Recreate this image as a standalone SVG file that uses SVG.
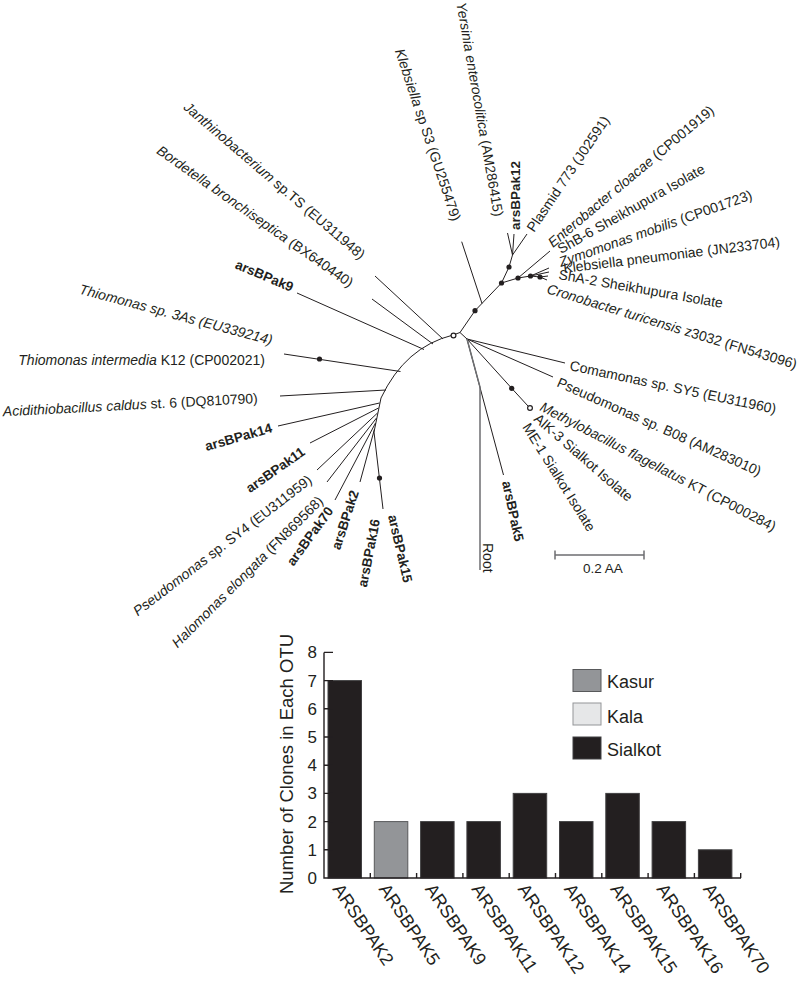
<svg xmlns="http://www.w3.org/2000/svg" width="798" height="982" viewBox="0 0 798 982">
<style>
text{font-family:"Liberation Sans",Arial,sans-serif;fill:#231f20}
.t{font-size:14px}
.b{font-weight:bold;font-size:13.5px}
.i{font-style:italic}
.ln{stroke:#231f20;stroke-width:1;fill:none}
.root{stroke:#6d6e71;stroke-width:1.5;fill:none}
.dot{fill:#231f20}
.oc{fill:#fff;stroke:#231f20;stroke-width:1.2}
.ax{stroke:#231f20;stroke-width:1.4;fill:none}
.bar{fill:#231f20;stroke:#414042;stroke-width:1}
.ks{fill:#939598;stroke:#58595b;stroke-width:1}
.kl{fill:#e6e7e8;stroke:#939598;stroke-width:1}
.xl{font-size:18px}
.yl{font-size:17px}
.lg{font-size:18px}
</style>
<rect width="798" height="982" fill="#fff"/>
<g id="connectors">
<path class="ln" d="M453,335 Q405,347 381,398 L374,432"/>
<path class="ln" d="M374,432 L383,509"/>
<path class="ln" d="M297,293 L424,349.5"/>
<path class="ln" d="M372,299 L433,344"/>
<path class="ln" d="M375,276 L443,339"/>
<path class="ln" d="M284,354 L400.5,371.5"/>
<path class="ln" d="M280,396 L386,390"/>
<path class="ln" d="M278,426 L379.5,403"/>
<path class="ln" d="M310,443 L378.5,408"/>
<path class="ln" d="M317,470 L377.5,413"/>
<path class="ln" d="M327,482 L376.5,418"/>
<path class="ln" d="M335,500 L375.5,423"/>
<path class="ln" d="M360,482 L374.5,429"/>
<path class="ln" d="M453,335 L460,332.5 L475,310.7 L501.5,283 L509,267 L512.5,255"/>
<path class="ln" d="M512.5,255 L507.5,233 M512.5,255 L514,234 M512.5,255 L527,234"/>
<path class="ln" d="M482,303.5 L461.7,241.7"/>
<path class="ln" d="M501.5,283 L518,278 L530.5,276 L540,277"/>
<path class="ln" d="M518,278 L550,251"/>
<path class="ln" d="M530.5,276 L549,268 M530.5,276 L549,272 M540,277 L548,276 M540,277 L547,280"/>
<path class="ln" d="M460,332.5 L467,339"/>
<path class="ln" d="M467,339 L565,363"/>
<path class="ln" d="M467,339 L553,377"/>
<path class="ln" d="M467,339 L511.7,388.3 L528,406"/>
<path class="ln" d="M467,339 L503.5,475"/>
<path class="root" d="M467,339 L480,387 L480,570"/>
<path class="root" d="M555,555 H644 M555,550.5 V559.5 M644,550.5 V559.5"/>
</g>
<g id="nodes">
<circle class="dot" cx="475" cy="310.7" r="2.6"/>
<circle class="dot" cx="501.5" cy="283" r="2.6"/>
<circle class="dot" cx="509" cy="267" r="2.6"/>
<circle class="dot" cx="518" cy="278" r="2.6"/>
<circle class="dot" cx="530.5" cy="276" r="2.6"/>
<circle class="dot" cx="540" cy="277" r="2.6"/>
<circle class="dot" cx="319.5" cy="359" r="2.6"/>
<circle class="dot" cx="379.5" cy="478" r="2.6"/>
<circle class="dot" cx="511.7" cy="388.3" r="2.6"/>
<circle class="oc" cx="453.5" cy="335.5" r="2.4"/>
<circle class="oc" cx="530" cy="408" r="2.4"/>
</g>
<g id="labels-left" text-anchor="end">
<text id="n-yersinia" class="t" transform="translate(494,217) rotate(80)"><tspan class="i">Yersinia enterocolitica</tspan> (AM286415)</text>
<text id="n-kleb-s3" class="t" transform="translate(452,222) rotate(71.5)"><tspan class="i">Klebsiella</tspan> sp S3 (GU255479)</text>
<text id="n-janth" class="t" transform="translate(360,260) rotate(40.5)"><tspan class="i">Janthinobacterium</tspan> sp.TS (EU311948)</text>
<text id="n-bord" class="t" transform="translate(349,288) rotate(35)"><tspan class="i">Bordetella bronchiseptica</tspan> (BX640440)</text>
<text id="n-pak9" class="b" transform="translate(291,292) rotate(23)">arsBPak9</text>
<text id="n-thio3" class="t i" transform="translate(271,345) rotate(15)">Thiomonas sp. 3As (EU339214)</text>
<text id="n-thioK" class="t" transform="translate(265,365)"><tspan class="i">Thiomonas intermedia</tspan> K12 (CP002021)</text>
<text id="n-acid" class="t" transform="translate(258,403) rotate(-3)"><tspan class="i">Acidithiobacillus caldus</tspan> st. 6 (DQ810790)</text>
<text id="n-pak14" class="b" transform="translate(273,432) rotate(-16)">arsBPak14</text>
<text id="n-pak11" class="b" transform="translate(306,454) rotate(-35)">arsBPak11</text>
<text id="n-sy4" class="t" transform="translate(313,482) rotate(-37.5)"><tspan class="i">Pseudomonas</tspan> sp. SY4 (EU311959)</text>
<text id="n-halo" class="t" transform="translate(324,502) rotate(-45)"><tspan class="i">Halomonas elongata</tspan> (FN869568)</text>
<text id="n-pak70" class="b" transform="translate(334,511) rotate(-54)">arsBPak70</text>
<text id="n-pak2" class="b" transform="translate(359,492) rotate(-72)">arsBPak2</text>
<text id="n-pak16" class="b" transform="translate(380,520) rotate(-79)">arsBPak16</text>
</g>
<g id="labels-right">
<text id="n-pak12" class="b" transform="translate(520,230) rotate(-90)">arsBPak12</text>
<text id="n-plasmid" class="t" transform="translate(534,233) rotate(-56)">Plasmid 773 (J02591)</text>
<text id="n-entero" class="t" transform="translate(553,248) rotate(-40)"><tspan class="i">Enterobacter cloacae</tspan> (CP001919)</text>
<text id="n-shb6" class="t" transform="translate(561,254) rotate(-29.5)">ShB-6 Sheikhupura Isolate</text>
<text id="n-zymo" class="t" transform="translate(561,267) rotate(-19.5)"><tspan class="i">Zymomonas mobilis</tspan> (CP001723)</text>
<text id="n-klebp" class="t" transform="translate(564,273) rotate(-7)">Klebsiella pneumoniae (JN233704)</text>
<text id="n-sha2" class="t" transform="translate(558,279) rotate(10)">ShA-2 Sheikhupura Isolate</text>
<text id="n-crono" class="t" transform="translate(546,293) rotate(17)"><tspan class="i">Cronobacter turicensis</tspan> z3032 (FN543096)</text>
<text id="n-coma" class="t" transform="translate(569,370) rotate(12)">Comamonas sp. SY5 (EU311960)</text>
<text id="n-b08" class="t" transform="translate(556,386) rotate(24)">Pseudomonas sp. B08 (AM283010)</text>
<text id="n-methyl" class="t" transform="translate(539,410) rotate(27.5)"><tspan class="i">Methylobacillus flagellatus</tspan> KT (CP000284)</text>
<text id="n-alk3" class="t" transform="translate(533,420) rotate(41)">AlK-3 Sialkot Isolate</text>
<text id="n-me1" class="t" transform="translate(522,427) rotate(58)">ME-1 Sialkot Isolate</text>
<text id="n-pak5" class="b" transform="translate(502,482) rotate(78)">arsBPak5</text>
<text id="n-pak15" class="b" transform="translate(388,516) rotate(77)">arsBPak15</text>
<text id="n-root" class="t" transform="translate(483,543) rotate(90)">Root</text>
<text id="scale" class="t" x="603" y="573" text-anchor="middle" style="font-size:13.5px">0.2 AA</text>
</g>
<g id="chart">
<rect class="bar" x="328" y="680.6" width="33.5" height="197.4"/>
<rect class="ks" x="374.3" y="821.6" width="33.5" height="56.4"/>
<rect class="bar" x="420.6" y="821.6" width="33.5" height="56.4"/>
<rect class="bar" x="466.9" y="821.6" width="33.5" height="56.4"/>
<rect class="bar" x="513.2" y="793.4" width="33.5" height="84.6"/>
<rect class="bar" x="559.5" y="821.6" width="33.5" height="56.4"/>
<rect class="bar" x="605.8" y="793.4" width="33.5" height="84.6"/>
<rect class="bar" x="652.1" y="821.6" width="33.5" height="56.4"/>
<rect class="bar" x="698.4" y="849.8" width="33.5" height="28.2"/>
<path class="ax" d="M324,652.4 V878 H741"/>
<path class="ax" d="M324,652.4 h9 M324,680.6 h9 M324,708.8 h9 M324,737 h9 M324,765.2 h9 M324,793.4 h9 M324,821.6 h9 M324,849.8 h9"/>
<path class="ax" d="M370.3,878 v-5 M416.6,878 v-5 M462.9,878 v-5 M509.2,878 v-5 M555.5,878 v-5 M601.8,878 v-5 M648.1,878 v-5 M694.4,878 v-5 M740.7,878 v-5"/>
<g class="yl" text-anchor="end">
<text x="317" y="658.4">8</text>
<text x="317" y="686.6">7</text>
<text x="317" y="714.8">6</text>
<text x="317" y="743">5</text>
<text x="317" y="771.2">4</text>
<text x="317" y="799.4">3</text>
<text x="317" y="827.6">2</text>
<text x="317" y="855.8">1</text>
<text x="317" y="884">0</text>
</g>
<text style="font-size:18.5px" text-anchor="middle" transform="translate(292.5,764) rotate(-90)">Number of Clones in Each OTU</text>
<g class="xl">
<text transform="translate(332,889) rotate(56)">ARSBPAK2</text>
<text transform="translate(378.3,889) rotate(56)">ARSBPAK5</text>
<text transform="translate(424.6,889) rotate(56)">ARSBPAK9</text>
<text transform="translate(470.9,889) rotate(56)">ARSBPAK11</text>
<text transform="translate(517.2,889) rotate(56)">ARSBPAK12</text>
<text transform="translate(563.5,889) rotate(56)">ARSBPAK14</text>
<text transform="translate(609.8,889) rotate(56)">ARSBPAK15</text>
<text transform="translate(656.1,889) rotate(56)">ARSBPAK16</text>
<text transform="translate(702.4,889) rotate(56)">ARSBPAK70</text>
</g>
<g id="legend">
<rect class="ks" x="573" y="669.5" width="28" height="22"/>
<rect class="kl" x="573" y="703" width="28" height="22"/>
<rect class="bar" x="573" y="737" width="28" height="22"/>
<text class="lg" x="607" y="687.5">Kasur</text>
<text class="lg" x="607" y="722.5">Kala</text>
<text class="lg" x="607" y="756">Sialkot</text>
</g>
</g>
</svg>
